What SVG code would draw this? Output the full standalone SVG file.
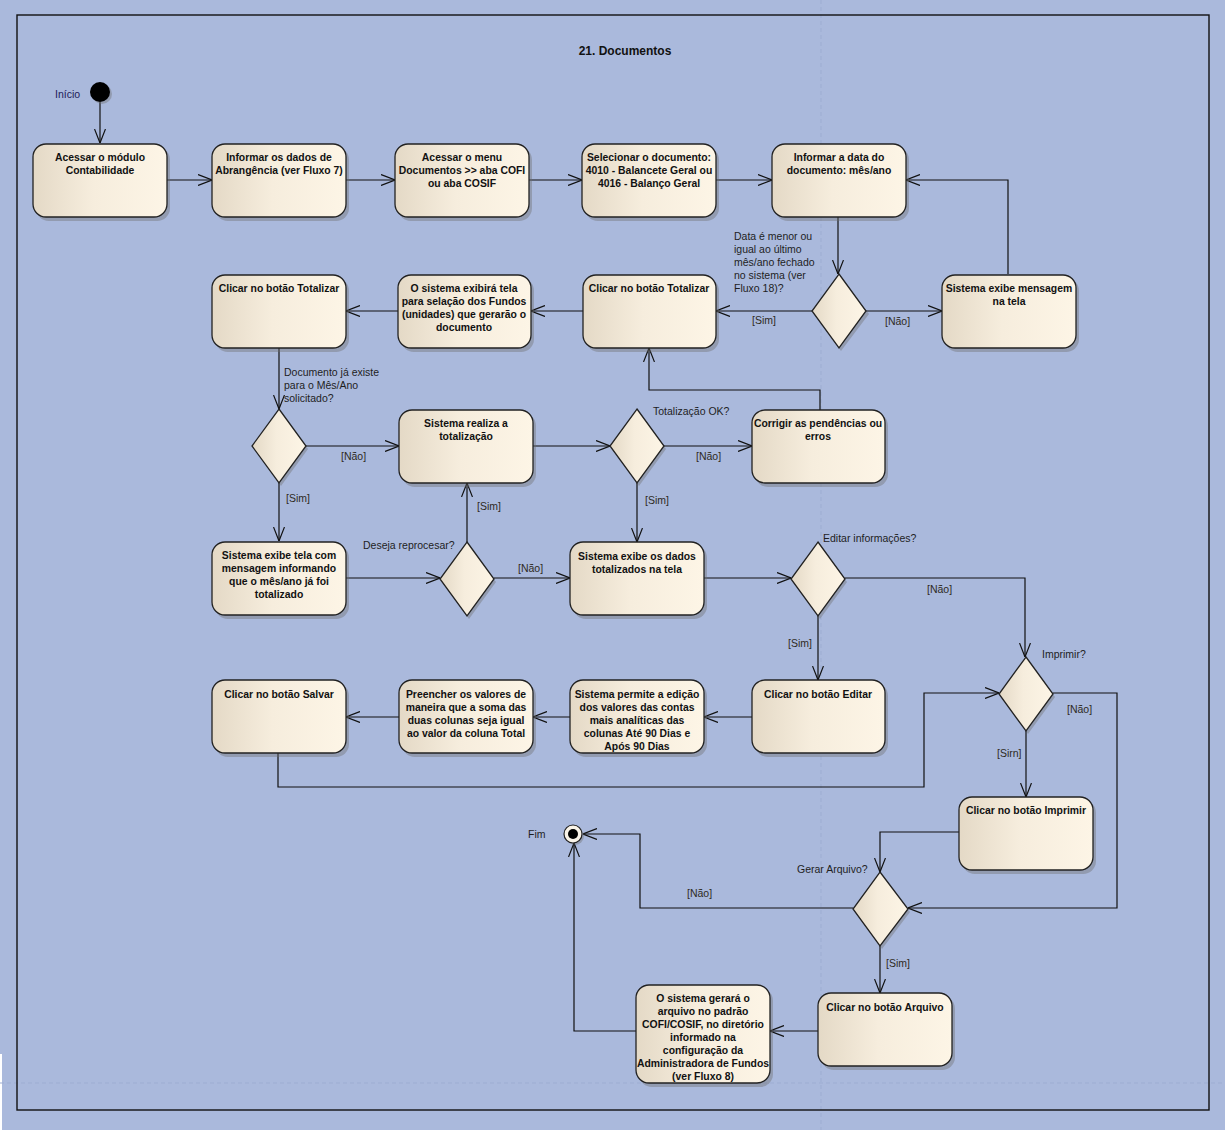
<svg xmlns="http://www.w3.org/2000/svg" width="1225" height="1130" viewBox="0 0 1225 1130">
<defs>
<linearGradient id="g" x1="0" y1="0" x2="1" y2="0">
<stop offset="0" stop-color="#E4D9C6"/>
<stop offset="0.45" stop-color="#F6EDDD"/>
<stop offset="1" stop-color="#FDF5E6"/>
</linearGradient>
<marker id="ar" viewBox="0 0 14 12" refX="14" refY="6" markerWidth="14" markerHeight="12" markerUnits="userSpaceOnUse" orient="auto">
<path d="M0,0.5 L14,6 L0,11.5" fill="none" stroke="#111" stroke-width="1.2"/>
</marker>
<style>
.bx{fill:url(#g);stroke:#222;stroke-width:1.3}
.sh{fill:#6f6f6f;opacity:.4}
.t{font-family:"Liberation Sans",Arial,sans-serif;font-size:10.4px;font-weight:bold;fill:#111;text-anchor:middle}
.lb{font-family:"Liberation Sans",Arial,sans-serif;font-size:10.5px;fill:#1e1e1e}
.gd{font-family:"Liberation Sans",Arial,sans-serif;font-size:10.5px;fill:#2e2a22}
.c{fill:none;stroke:#111;stroke-width:1.2}
.a{marker-end:url(#ar)}
</style>
</defs>
<rect x="0" y="0" width="1225" height="1130" fill="#AAB9DC"/>
<rect x="0" y="1054" width="2" height="76" fill="#ffffff"/>
<line x1="821" y1="0" x2="821" y2="1130" stroke="#9dadd2" stroke-width="1" stroke-dasharray="4,3"/>
<line x1="0" y1="1083" x2="1225" y2="1083" stroke="#9dadd2" stroke-width="1" stroke-dasharray="4,3"/>
<rect x="17" y="15" width="1192" height="1095" fill="none" stroke="#111" stroke-width="1.4"/>
<text x="625" y="55" font-family="'Liberation Sans',Arial,sans-serif" font-size="12" font-weight="bold" text-anchor="middle" fill="#111">21. Documentos</text>

<g id="connectors">
<path class="c a" d="M100,102 L100,143"/>
<path class="c a" d="M167,180 L212,180"/>
<path class="c a" d="M346,180 L395,180"/>
<path class="c a" d="M529,180 L582,180"/>
<path class="c a" d="M716,180 L772,180"/>
<path class="c a" d="M838,217 L838,274"/>
<path class="c a" d="M812,311 L716,311"/>
<path class="c a" d="M866,311 L942,311"/>
<path class="c a" d="M1008,274 L1008,180 L906,180"/>
<path class="c a" d="M583,311 L531,311"/>
<path class="c a" d="M398,311 L346,311"/>
<path class="c a" d="M279,348 L279,409"/>
<path class="c a" d="M306,446 L399,446"/>
<path class="c a" d="M533,446 L610,446"/>
<path class="c a" d="M664,446 L752,446"/>
<path class="c a" d="M820,410 L820,390 L649,390 L649,348"/>
<path class="c a" d="M279,483 L279,541"/>
<path class="c a" d="M637,483 L637,542"/>
<path class="c a" d="M346,578 L440,578"/>
<path class="c a" d="M467,542 L467,483"/>
<path class="c a" d="M494,578 L570,578"/>
<path class="c a" d="M704,578 L791,578"/>
<path class="c a" d="M845,578 L1025,578 L1025,657"/>
<path class="c a" d="M818,616 L818,680"/>
<path class="c a" d="M752,717 L704,717"/>
<path class="c a" d="M570,717 L533,717"/>
<path class="c a" d="M399,717 L346,717"/>
<path class="c a" d="M278,753 L278,787 L924,787 L924,693 L999,693"/>
<path class="c a" d="M1053,693 L1117,693 L1117,908 L908,908"/>
<path class="c a" d="M1026,731 L1026,797"/>
<path class="c a" d="M959,832 L880,832 L880,872"/>
<path class="c a" d="M853,908 L640,908 L640,834 L583,834"/>
<path class="c a" d="M880,946 L880,993"/>
<path class="c a" d="M818,1031 L770,1031"/>
<path class="c a" d="M636,1031 L574,1031 L574,843"/>
<text class="lb"><tspan x="734" y="240">Data é menor ou</tspan><tspan x="734" y="253">igual ao último</tspan><tspan x="734" y="266">mês/ano fechado</tspan><tspan x="734" y="279">no sistema (ver</tspan><tspan x="734" y="292">Fluxo 18)?</tspan></text>
<text class="gd" x="752" y="324">[Sim]</text>
<text class="gd" x="885" y="325">[Não]</text>
<text class="lb"><tspan x="284" y="376">Documento já existe</tspan><tspan x="284" y="389">para o Mês/Ano</tspan><tspan x="284" y="402">solicitado?</tspan></text>
<text class="gd" x="341" y="460">[Não]</text>
<text class="lb" x="653" y="415">Totalização OK?</text>
<text class="gd" x="696" y="460">[Não]</text>
<text class="gd" x="286" y="502">[Sim]</text>
<text class="gd" x="645" y="504">[Sim]</text>
<text class="gd" x="477" y="510">[Sim]</text>
<text class="lb" x="363" y="549">Deseja reprocesar?</text>
<text class="gd" x="518" y="572">[Não]</text>
<text class="lb" x="823" y="542">Editar informações?</text>
<text class="gd" x="927" y="593">[Não]</text>
<text class="gd" x="788" y="647">[Sim]</text>
<text class="lb" x="1042" y="658">Imprimir?</text>
<text class="gd" x="1067" y="713">[Não]</text>
<text class="gd" x="997" y="757">[Sirn]</text>
<text class="lb" x="797" y="873">Gerar Arquivo?</text>
<text class="gd" x="687" y="897">[Não]</text>
<text class="gd" x="886" y="967">[Sim]</text>
</g>

<g id="start">
<circle cx="102" cy="94" r="10" fill="#6f6f6f" opacity=".4"/>
<circle cx="100" cy="92" r="10" fill="#000"/>
<text x="55" y="98" font-family="'Liberation Sans',Arial,sans-serif" font-size="10.5" fill="#20205a">Início</text>
</g>
<g id="end">
<circle cx="575" cy="836" r="9" fill="#6f6f6f" opacity=".4"/>
<circle cx="573" cy="834" r="9" fill="#FAF4E8" stroke="#222" stroke-width="1.2"/>
<circle cx="573" cy="834" r="5" fill="#000"/>
<text x="528" y="838" font-family="'Liberation Sans',Arial,sans-serif" font-size="10.5" fill="#1e1e1e">Fim</text>
</g>

<g id="n1"><rect class="sh" x="36" y="147" width="134" height="74" rx="13"/><rect class="bx" x="33" y="144" width="134" height="73" rx="13"/><text class="t"><tspan x="100" y="161">Acessar o módulo</tspan><tspan x="100" y="174">Contabilidade</tspan></text></g>
<g id="n2"><rect class="sh" x="215" y="147" width="134" height="74" rx="13"/><rect class="bx" x="212" y="144" width="134" height="73" rx="13"/><text class="t"><tspan x="279" y="161">Informar os dados de</tspan><tspan x="279" y="174">Abrangência (ver Fluxo 7)</tspan></text></g>
<g id="n3"><rect class="sh" x="398" y="147" width="134" height="74" rx="13"/><rect class="bx" x="395" y="144" width="134" height="73" rx="13"/><text class="t"><tspan x="462" y="161">Acessar o menu</tspan><tspan x="462" y="174">Documentos &gt;&gt; aba COFI</tspan><tspan x="462" y="187">ou aba COSIF</tspan></text></g>
<g id="n4"><rect class="sh" x="585" y="147" width="134" height="74" rx="13"/><rect class="bx" x="582" y="144" width="134" height="73" rx="13"/><text class="t"><tspan x="649" y="161">Selecionar o documento:</tspan><tspan x="649" y="174">4010 - Balancete Geral ou</tspan><tspan x="649" y="187">4016 - Balanço Geral</tspan></text></g>
<g id="n5"><rect class="sh" x="775" y="147" width="134" height="74" rx="13"/><rect class="bx" x="772" y="144" width="134" height="73" rx="13"/><text class="t"><tspan x="839" y="161">Informar a data do</tspan><tspan x="839" y="174">documento: mês/ano</tspan></text></g>

<g id="d1"><path class="sh" d="M841,277 L869,314 L841,351 L814,314 Z"/><path class="bx" d="M839,274 L866,311 L839,348 L812,311 Z"/></g>
<g id="n9"><rect class="sh" x="945" y="278" width="134" height="74" rx="13"/><rect class="bx" x="942" y="275" width="134" height="73" rx="13"/><text class="t"><tspan x="1009" y="292">Sistema exibe mensagem</tspan><tspan x="1009" y="305">na tela</tspan></text></g>
<g id="n8"><rect class="sh" x="586" y="278" width="133" height="74" rx="13"/><rect class="bx" x="583" y="275" width="133" height="73" rx="13"/><text class="t"><tspan x="649" y="292">Clicar no botão Totalizar</tspan></text></g>
<g id="n7"><rect class="sh" x="401" y="278" width="133" height="74" rx="13"/><rect class="bx" x="398" y="275" width="133" height="73" rx="13"/><text class="t"><tspan x="464" y="292">O sistema exibirá tela</tspan><tspan x="464" y="305">para selação dos Fundos</tspan><tspan x="464" y="318">(unidades) que gerarão o</tspan><tspan x="464" y="331">documento</tspan></text></g>
<g id="n6"><rect class="sh" x="215" y="278" width="134" height="74" rx="13"/><rect class="bx" x="212" y="275" width="134" height="73" rx="13"/><text class="t"><tspan x="279" y="292">Clicar no botão Totalizar</tspan></text></g>

<g id="d2"><path class="sh" d="M281,412 L308,449 L281,486 L254,449 Z"/><path class="bx" d="M279,409 L306,446 L279,483 L252,446 Z"/></g>
<g id="n10"><rect class="sh" x="402" y="413" width="134" height="74" rx="13"/><rect class="bx" x="399" y="410" width="134" height="73" rx="13"/><text class="t"><tspan x="466" y="427">Sistema realiza a</tspan><tspan x="466" y="440">totalização</tspan></text></g>
<g id="d3"><path class="sh" d="M639,412 L666,449 L639,486 L612,449 Z"/><path class="bx" d="M637,409 L664,446 L637,483 L610,446 Z"/></g>
<g id="n11"><rect class="sh" x="755" y="413" width="133" height="74" rx="13"/><rect class="bx" x="752" y="410" width="133" height="73" rx="13"/><text class="t"><tspan x="818" y="427">Corrigir as pendências ou</tspan><tspan x="818" y="440">erros</tspan></text></g>

<g id="n12"><rect class="sh" x="215" y="545" width="134" height="74" rx="13"/><rect class="bx" x="212" y="542" width="134" height="73" rx="13"/><text class="t"><tspan x="279" y="559">Sistema exibe tela com</tspan><tspan x="279" y="572">mensagem informando</tspan><tspan x="279" y="585">que o mês/ano já foi</tspan><tspan x="279" y="598">totalizado</tspan></text></g>
<g id="d4"><path class="sh" d="M469,545 L496,582 L469,619 L442,582 Z"/><path class="bx" d="M467,542 L494,579 L467,616 L440,579 Z"/></g>
<g id="n14"><rect class="sh" x="573" y="545" width="134" height="74" rx="13"/><rect class="bx" x="570" y="542" width="134" height="73" rx="13"/><text class="t"><tspan x="637" y="560">Sistema exibe os dados</tspan><tspan x="637" y="573">totalizados na tela</tspan></text></g>
<g id="d5"><path class="sh" d="M820,545 L847,582 L820,619 L793,582 Z"/><path class="bx" d="M818,542 L845,579 L818,616 L791,579 Z"/></g>

<g id="n15"><rect class="sh" x="755" y="683" width="133" height="74" rx="13"/><rect class="bx" x="752" y="680" width="133" height="73" rx="13"/><text class="t"><tspan x="818" y="698">Clicar no botão Editar</tspan></text></g>
<g id="n22"><rect class="sh" x="573" y="683" width="134" height="74" rx="13"/><rect class="bx" x="570" y="680" width="134" height="73" rx="13"/><text class="t"><tspan x="637" y="698">Sistema permite a edição</tspan><tspan x="637" y="711">dos valores das contas</tspan><tspan x="637" y="724">mais analíticas das</tspan><tspan x="637" y="737">colunas Até 90 Dias e</tspan><tspan x="637" y="750">Após 90 Dias</tspan></text></g>
<g id="n21"><rect class="sh" x="402" y="683" width="134" height="74" rx="13"/><rect class="bx" x="399" y="680" width="134" height="73" rx="13"/><text class="t"><tspan x="466" y="698">Preencher os valores de</tspan><tspan x="466" y="711">maneira que a soma das</tspan><tspan x="466" y="724">duas colunas seja igual</tspan><tspan x="466" y="737">ao valor da coluna Total</tspan></text></g>
<g id="n20"><rect class="sh" x="215" y="683" width="134" height="74" rx="13"/><rect class="bx" x="212" y="680" width="134" height="73" rx="13"/><text class="t"><tspan x="279" y="698">Clicar no botão Salvar</tspan></text></g>

<g id="d6"><path class="sh" d="M1028,660 L1055,697 L1028,734 L1001,697 Z"/><path class="bx" d="M1026,657 L1053,694 L1026,731 L999,694 Z"/></g>
<g id="n17"><rect class="sh" x="962" y="800" width="134" height="74" rx="13"/><rect class="bx" x="959" y="797" width="134" height="73" rx="13"/><text class="t"><tspan x="1026" y="814">Clicar no botão Imprimir</tspan></text></g>
<g id="d7"><path class="sh" d="M882,875 L910,912 L882,949 L855,912 Z"/><path class="bx" d="M880,872 L908,909 L880,946 L853,909 Z"/></g>
<g id="n18"><rect class="sh" x="821" y="996" width="134" height="74" rx="13"/><rect class="bx" x="818" y="993" width="134" height="73" rx="13"/><text class="t"><tspan x="885" y="1011">Clicar no botão Arquivo</tspan></text></g>
<g id="n19"><rect class="sh" x="639" y="988" width="134" height="99" rx="13"/><rect class="bx" x="636" y="985" width="134" height="98" rx="13"/><text class="t"><tspan x="703" y="1002">O sistema gerará o</tspan><tspan x="703" y="1015">arquivo no padrão</tspan><tspan x="703" y="1028">COFI/COSIF, no diretório</tspan><tspan x="703" y="1041">informado na</tspan><tspan x="703" y="1054">configuração da</tspan><tspan x="703" y="1067">Administradora de Fundos</tspan><tspan x="703" y="1080">(ver Fluxo 8)</tspan></text></g>
</svg>
